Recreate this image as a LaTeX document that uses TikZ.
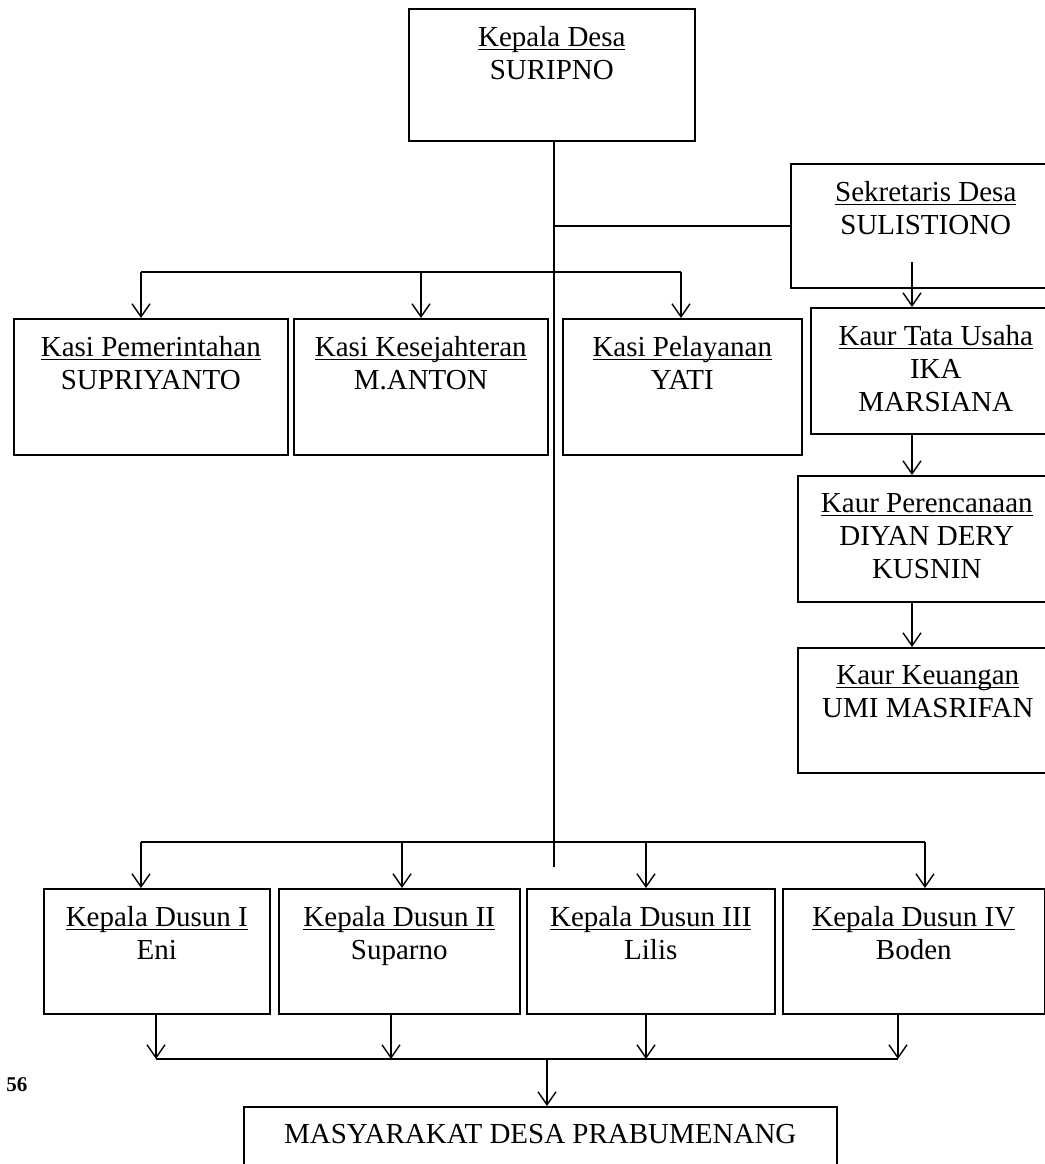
\documentclass[tikz,border=0pt]{standalone}
\usepackage{fontspec}
\setmainfont{Liberation Serif}
\usetikzlibrary{arrows.meta}
\newcommand{\garis}[1]{\setbox0\hbox{#1}\rlap{\rule[-1.8pt]{\wd0}{0.6pt}}\box0}

\begin{document}
\begin{tikzpicture}[x=0.5pt,y=-0.5pt,
  kotak/.style={draw,line width=0.8pt,anchor=north west,inner sep=0},
  isi/.style={anchor=north,inner sep=0,align=center,font=\fontsize{14.5pt}{16.5pt}\selectfont},
  hubung/.style={line width=0.7pt},
  panah/.style={-{Straight Barb[length=6.5pt,width=9pt]},line width=0.7pt}]
\useasboundingbox (0,0) rectangle (1045,1164);
\clip (0,0) rectangle (1045,1164);

% kepala desa dan sekretaris
\node[kotak,minimum width=143pt,minimum height=66pt] (kades) at (408,8) {};
\node[isi] (tkades) at ([yshift=-9pt]kades.north) {\garis{Kepala Desa}\\SURIPNO};
\node[kotak,minimum width=135pt,minimum height=62pt] (sekdes) at (790,163) {};
\node[isi] (tsekdes) at ([yshift=-9pt]sekdes.north) {\garis{Sekretaris Desa}\\SULISTIONO};

% kasi
\foreach \nama/\x/\w/\jab/\org in {kasi1/13/137/Kasi Pemerintahan/SUPRIYANTO,
    kasi2/293/127/Kasi Kesejahteran/M.ANTON, kasi3/562/119.5/Kasi Pelayanan/YATI}{
  \node[kotak,minimum width=\w pt,minimum height=68pt] (\nama) at (\x,318) {};
  \node[isi] (t\nama) at ([yshift=-9pt]\nama.north) {\garis{\jab}\\\org};
}

% kaur
\foreach \nama/\x/\y/\w/\h/\jab/\org in {tu/810/307/125/63/Kaur Tata Usaha/IKA\\MARSIANA,
    ren/797/475/129/63/Kaur Perencanaan/DIYAN DERY\\KUSNIN,
    keu/797/647/130/62.5/Kaur Keuangan/UMI MASRIFAN}{
  \node[kotak,minimum width=\w pt,minimum height=\h pt] (\nama) at (\x,\y) {};
  \node[isi] (t\nama) at ([yshift=-9pt]\nama.north) {\garis{\jab}\\\org};
}

% kepala dusun
\foreach \nama/\x/\w/\no/\org in {d1/43/113/I/Eni, d2/278/120.5/II/Suparno,
    d3/526/124/III/Lilis, d4/782/131/IV/Boden}{
  \node[kotak,minimum width=\w pt,minimum height=62.5pt] (\nama) at (\x,888) {};
  \node[isi] (t\nama) at ([yshift=-9pt]\nama.north) {\garis{Kepala Dusun \no}\\\org};
}

% masyarakat
\node[kotak,minimum width=296.5pt,minimum height=40pt] (mas) at (243,1106) {};
\node[isi] (tmas) at ([yshift=-9pt]mas.north) {MASYARAKAT DESA PRABUMENANG};

\node[anchor=base west,inner sep=0,font=\fontsize{10.5pt}{11pt}\selectfont\bfseries] (hal) at (6,1091) {56};

% garis komando
\coordinate (pusat) at (554,867);
\draw[hubung] (kades.south -| pusat) -- (pusat);
\draw[hubung] (pusat |- sekdes.west) -- (sekdes.west);

\coordinate (bk1) at (141,272); \coordinate (bk3) at (681,272);
\draw[hubung] (bk1) -- (bk3);
\foreach \nama/\x in {kasi1/141, kasi2/421, kasi3/681}{
  \coordinate (a\nama) at (\x,272);
  \draw[panah] (a\nama) -- (a\nama |- \nama.north);
}

\coordinate (jalur) at (912,262);
\draw[panah] (jalur) -- (jalur |- tu.north);
\draw[panah] (jalur |- tu.south) -- (jalur |- ren.north);
\draw[panah] (jalur |- ren.south) -- (jalur |- keu.north);

\coordinate (bd1) at (141,842); \coordinate (bd4) at (925,842);
\draw[hubung] (bd1) -- (bd4);
\coordinate (bb1) at (156,1059); \coordinate (bb4) at (898,1059);
\draw[hubung] (bb1) -- (bb4);
\foreach \nama/\xa/\xb in {d1/141/156, d2/402/391, d3/646/646, d4/925/898}{
  \coordinate (a\nama) at (\xa,842);
  \coordinate (b\nama) at (\xb,1059);
  \draw[panah] (a\nama) -- (a\nama |- \nama.north);
  \draw[panah] (b\nama |- \nama.south) -- (b\nama);
}
\coordinate (turun) at (547,1059);
\draw[panah] (turun) -- (turun |- mas.north);
\end{tikzpicture}
\end{document}
